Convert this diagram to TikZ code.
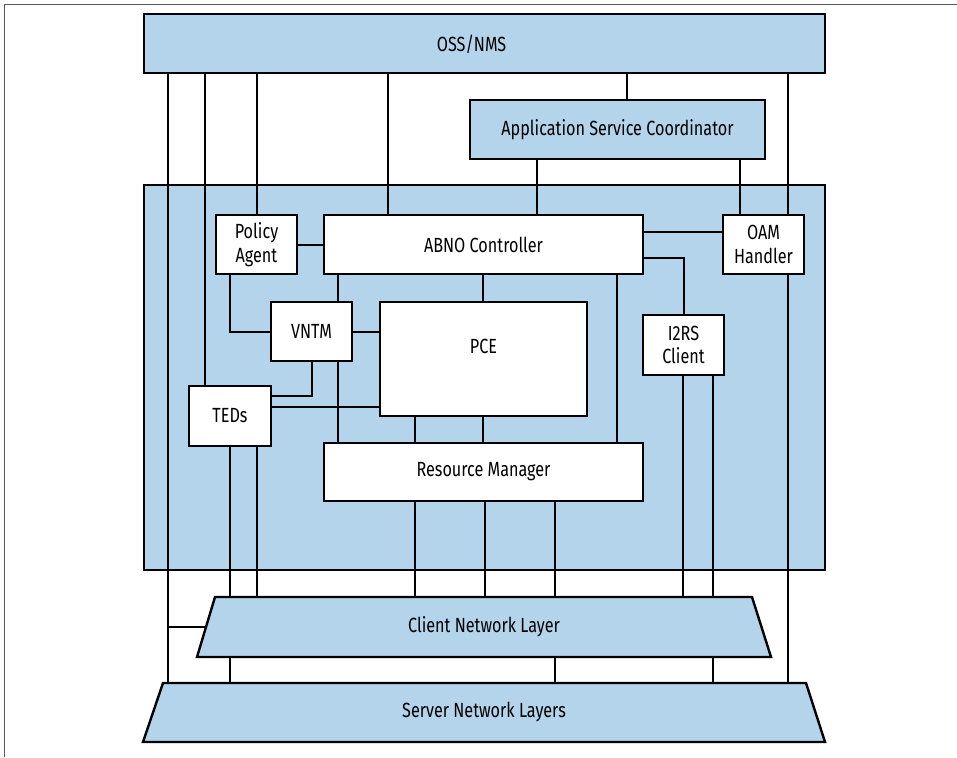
\documentclass[tikz,border=0pt]{standalone}
\usepackage{fontspec}
\setmainfont{Fira Sans}[FakeStretch=0.79]
\pgfdeclarelayer{back}
\pgfdeclarelayer{lines}
\pgfsetlayers{back,lines,main}
\definecolor{abnoblue}{RGB}{179,212,234}
\definecolor{framegray}{RGB}{90,90,90}
\newcommand\vlink[3]{\draw[link] (#1,0 |- #2) -- (#1,0 |- #3);}
\begin{document}
\begin{tikzpicture}[x=1pt,y=-1pt,
  every node/.style={font=\fontsize{20.5}{23.5}\selectfont, inner sep=0pt, align=center},
  wbox/.style={draw=black, line width=2.4pt, fill=white},
  bbox/.style={draw=black, line width=2.4pt, fill=abnoblue},
  link/.style={draw=black, line width=2pt},
  layer/.style={draw=black, line width=2.4pt, fill=abnoblue, line join=miter}]
\useasboundingbox (0,0) rectangle (957,757);
\begin{pgfonlayer}{back}
\fill[white] (0,0) rectangle (957,757);
\draw[framegray, line width=1pt] (4,757) -- (4,5) -- (957,5);
\end{pgfonlayer}

% boxes
\node[bbox, minimum width=681pt, minimum height=59pt,
  label={[xshift=-13pt,yshift=-1pt]center:OSS/NMS}] (oss) at (484.5,43.5) {};
\node[bbox, minimum width=295pt, minimum height=59pt] (asc) at (617.5,129.5) {Application Service Coordinator};
\begin{pgfonlayer}{back}
\node[bbox, minimum width=681pt, minimum height=385pt] (abno) at (484.5,377.5) {};
\end{pgfonlayer}
\node[wbox, minimum width=81pt, minimum height=59pt] (pa) at (256.5,244.5) {Policy\\Agent};
\node[wbox, minimum width=319pt, minimum height=59pt] (ctrl) at (483.5,244.5) {ABNO Controller};
\node[wbox, minimum width=81pt, minimum height=59pt] (oam) at (763.5,244.5) {OAM\\Handler};
\node[wbox, minimum width=81pt, minimum height=59pt] (vntm) at (311.5,331.5) {VNTM};
\node[wbox, minimum width=207pt, minimum height=114pt,
  label={[yshift=13pt]center:PCE}] (pce) at (483.5,359) {};
\node[wbox, minimum width=82pt, minimum height=60pt] (teds) at (230,416) {TEDs};
\node[wbox, minimum width=319pt, minimum height=58pt] (rm) at (483.5,472) {Resource Manager};
\node[wbox, minimum width=81pt, minimum height=60pt] (i2rs) at (683.5,345) {I2RS\\Client};

% network layers
\draw[layer] (215,597) -- (752,597) -- (771,657) -- (197,657) -- cycle;
\node (client) at (484,627) {Client Network Layer};
\coordinate (cltop) at (484,597);
\coordinate (clleft) at (206,627);
\draw[layer] (163,683) -- (806,683) -- (825,742) -- (143,742) -- cycle;
\node (server) at (484,712) {Server Network Layers};
\coordinate (svtop) at (484,683);

% connectors
\begin{pgfonlayer}{lines}
\vlink{168}{oss.south}{svtop}
\vlink{205}{oss.south}{teds.north}
\vlink{257}{oss.south}{pa.north}
\vlink{388}{oss.south}{ctrl.north}
\vlink{627}{oss.south}{asc.north}
\vlink{788}{oss.south}{oam.north}
\vlink{788}{oam.south}{svtop}
\vlink{537}{asc.south}{ctrl.north}
\vlink{740}{asc.south}{oam.north}
\draw[link] (pa.east) -- (ctrl.west |- pa.east);
\draw[link] (230,0 |- pa.south) |- (vntm.west);
\vlink{338}{ctrl.south}{vntm.north}
\draw[link] (vntm.east) -- (pce.west |- vntm.east);
\draw[link] (312,0 |- vntm.south) |- ([yshift=-11pt]teds.north east);
\vlink{338}{vntm.south}{rm.north}
\coordinate (tp) at ([yshift=-22pt]teds.north east);
\draw[link] (tp) -- (pce.west |- tp);
\vlink{483}{ctrl.south}{pce.north}
\vlink{617}{ctrl.south}{rm.north}
\vlink{415}{pce.south}{rm.north}
\vlink{483}{pce.south}{rm.north}
\coordinate (c1) at ([yshift=-18pt]ctrl.north east);
\draw[link] (c1) -- (oam.west |- c1);
\coordinate (c2) at ([yshift=-44pt]ctrl.north east);
\draw[link] (c2) -| (i2rs.north);
\vlink{683}{i2rs.south}{cltop}
\vlink{713}{i2rs.south}{svtop}
\vlink{230}{teds.south}{svtop}
\vlink{257}{teds.south}{cltop}
\vlink{415}{rm.south}{cltop}
\vlink{485}{rm.south}{cltop}
\vlink{555}{rm.south}{svtop}
\draw[link] (168,0 |- clleft) -- (clleft);
\end{pgfonlayer}
\end{tikzpicture}
\end{document}
